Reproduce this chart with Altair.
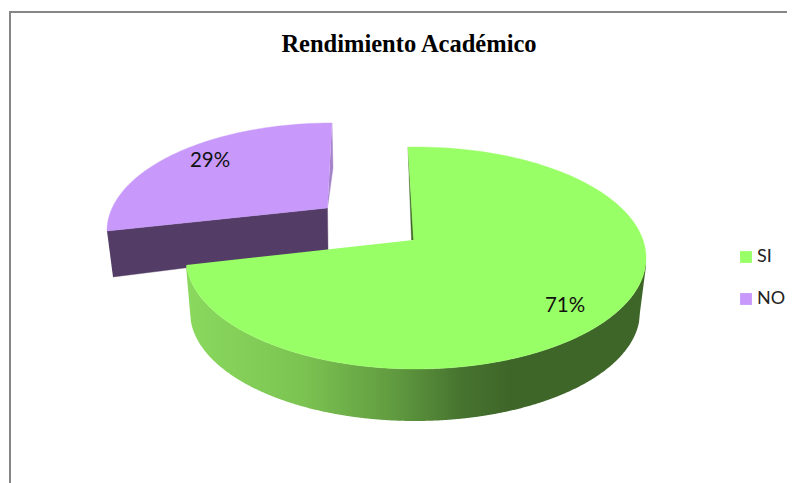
import numpy as np
import pandas as pd
import altair as alt

# Data
categories = ["SI", "NO"]
shares = [71, 29]
labels = ["71%", "29%"]
title_text = "Rendimiento Académico"

# Styling
top_colors = ["#99FF66", "#C899FB"]
dark_purple = "#533D66"
purple_wall = "#A583CB"
green_wall = "#3F6629"
frame_color = "#868686"

# Pseudo-3D geometry (page pixel space)
G_TOP = dict(cx=416, cy=258, rx=230, ry=111)
G_BOT = dict(cx=415, cy=312, rx=225, ry=109)
G_APEX = (413.5, 240)
G_T0, G_T1 = -92.0, 176.4
P_TOP = dict(cx=332, cy=231, rx=225, ry=108)
P_APEX = (327.5, 208)
P_T0, P_T1 = 180.0, 270.0

PAGE_R, PAGE_B = 787, 483
X = alt.X("x:Q", axis=None, scale=alt.Scale(domain=[8, PAGE_R], zero=False, nice=False))
Y = alt.Y("y:Q", axis=None, scale=alt.Scale(domain=[PAGE_B, 8], zero=False, nice=False))


def arc(e, t0, t1, n=90):
    t = np.radians(np.linspace(t0, t1, n))
    return e["cx"] + e["rx"] * np.cos(t), e["cy"] + e["ry"] * np.sin(t)


def poly(xs, ys, color):
    df = pd.DataFrame({"x": xs, "y": ys, "i": np.arange(len(xs))})
    return (
        alt.Chart(df)
        .mark_line(fill=color, stroke=color, strokeWidth=0.4, interpolate="linear")
        .encode(x=X, y=Y, order=alt.Order("i:Q"))
    )


# purple slice
px, py = arc(P_TOP, P_T0, P_T1)
purple_top = poly(np.r_[P_APEX[0], px], np.r_[P_APEX[1], py], top_colors[1])
purple_side = poly([107, 327.5, 328, 113], [231, 208, 250, 277], dark_purple)
purple_sliver = poly([332, 333, 327.5], [123, 168, 208], purple_wall)

# green slice
gx, gy = arc(G_TOP, G_T0, G_T1, 160)
green_top = poly(np.r_[G_APEX[0], gx], np.r_[G_APEX[1], gy], top_colors[0])
green_sliver = poly([408, 411.5, 414], [147, 240, 240], green_wall)

# green outer wall: area between front arcs of upper and lower ellipses
xs = np.arange(186.0, 646.5, 1.0)
top_y = G_TOP["cy"] + G_TOP["ry"] * np.sqrt(np.clip(1 - ((xs - G_TOP["cx"]) / G_TOP["rx"]) ** 2, 0, 1))
top_y = np.maximum(top_y, 265 * (xs < 300))
bot_y = G_BOT["cy"] + G_BOT["ry"] * np.sqrt(np.clip(1 - ((xs - G_BOT["cx"]) / G_BOT["rx"]) ** 2, 0, 1))
left = xs < 190
bot_y[left] = np.interp(xs[left], [186, 190], [266, 312])
right = xs > 640
bot_y[right] = np.interp(xs[right], [640, 646], [312, 266])
side_df = pd.DataFrame({"x": xs, "y": top_y, "y2": bot_y})
green_side = (
    alt.Chart(side_df)
    .mark_area(
        color=alt.Gradient(
            gradient="linear", x1=0, x2=1, y1=0, y2=0,
            stops=[
                alt.GradientStop(offset=0.0, color="#8AD95E"),
                alt.GradientStop(offset=0.25, color="#7CC452"),
                alt.GradientStop(offset=0.45, color="#619B40"),
                alt.GradientStop(offset=0.6, color="#46742F"),
                alt.GradientStop(offset=0.7, color="#3F6629"),
                alt.GradientStop(offset=1.0, color="#3F6629"),
            ],
        )
    )
    .encode(x=X, y=Y, y2="y2:Q")
)

# legend source: squares tucked under the green top
legend_df = pd.DataFrame({"categoria": categories, "x": [416, 416], "y": [258, 258]})
legend_pts = (
    alt.Chart(legend_df)
    .mark_square(size=4, opacity=1)
    .encode(
        x=X, y=Y,
        color=alt.Color(
            "categoria:N",
            scale=alt.Scale(domain=categories, range=top_colors),
            legend=alt.Legend(
                title=None, orient="none", legendX=729, legendY=240,
                symbolType="square", symbolSize=140, symbolStrokeWidth=0,
                labelFont="Lato", labelFontSize=18, labelColor="#222222",
                rowPadding=24, labelOffset=2, offset=0, padding=0,
            ),
        ),
    )
)

label_df = pd.DataFrame({"t": labels, "x": [565, 210], "y": [306, 161]})
label_text = (
    alt.Chart(label_df)
    .mark_text(font="Lato", fontSize=20.5, color="#111111")
    .encode(x=X, y=Y, text="t:N")
)

frame_v = alt.Chart(pd.DataFrame({"x": [10], "y": [12], "y2": [PAGE_B]})).mark_rule(
    color=frame_color, strokeWidth=2
).encode(x=X, y=Y, y2="y2:Q")
frame_h = alt.Chart(pd.DataFrame({"x": [9], "x2": [PAGE_R], "y": [12]})).mark_rule(
    color=frame_color, strokeWidth=2
).encode(x=X, x2="x2:Q", y=Y)

chart = alt.layer(
    frame_v, frame_h,
    purple_sliver, purple_side, purple_top,
    green_side, green_sliver, legend_pts, green_top,
    label_text,
).properties(
    width=PAGE_R - 8, height=PAGE_B - 8, padding=0, background="white",
    autosize=alt.AutoSizeParams(type="none"),
    title=alt.TitleParams(
        title_text, font="Liberation Serif", fontSize=24.5, fontWeight="bold",
        color="#000000", anchor="middle", dx=11.5, dy=68, offset=0, baseline="alphabetic",
    ),
).configure_view(stroke=None)

chart.save("out.html", embed_options={"renderer": "svg", "actions": False})
